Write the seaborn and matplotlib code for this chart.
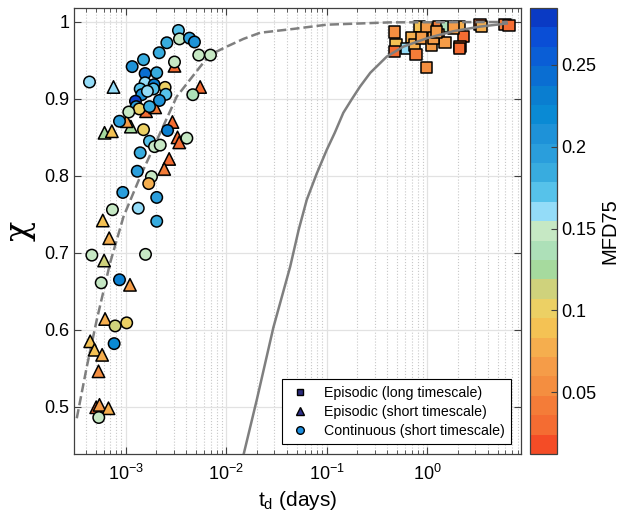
import matplotlib
matplotlib.use("Agg")
import matplotlib.pyplot as plt
from matplotlib.colors import ListedColormap, Normalize
from matplotlib.cm import ScalarMappable
from matplotlib.lines import Line2D
import matplotlib.ticker as mticker
import pandas as pd
import seaborn as sns

# colourbar bands for MFD75, from low (red) to high (dark blue)
band_colors = ['#f44c26', '#f46c32', '#f47c38', '#f48e40', '#f59c48', '#f5ae4e',
               '#f4c254', '#ecd064', '#cfd27c', '#a6da9e', '#ade0b8', '#c6e8c4',
               '#94dcf8', '#56c2ea', '#38acdf', '#2a9edc', '#1e92d8', '#0a8ad4',
               '#0a7ed0', '#0a6ed2', '#0a5ed6', '#0a4ed6', '#0a3ac4']
mfd_min, mfd_max = 0.0122, 0.2848
cb_ticks = [0.05, 0.1, 0.15, 0.2, 0.25]
cb_labels = ['0.05', '0.1', '0.15', '0.2', '0.25']

# Episodic (long timescale) -- squares
sq_t = [0.471, 0.834, 0.989, 1.31, 1.563, 2.07, 3.35, 3.48, 5.94, 6.52, 2.29, 0.489, 0.471,
        0.702, 0.625, 0.740, 0.774, 0.881, 1.11, 1.29, 1.50, 1.82, 2.12, 2.09, 0.989, 1.15, 1.245]
sq_chi = [0.987, 0.994, 0.9926, 0.994, 0.994, 0.994, 0.997, 0.994, 0.997, 0.995, 0.981, 0.970, 0.962,
          0.980, 0.966, 0.970, 0.958, 0.979, 0.970, 0.983, 0.9735, 0.992, 0.968, 0.966, 0.941, 0.979, 0.987]
sq_mfd = [0.055, 0.09, 0.065, 0.045, 0.14, 0.08, 0.025, 0.08, 0.04, 0.025, 0.025, 0.095, 0.035,
          0.08, 0.16, 0.08, 0.045, 0.07, 0.06, 0.065, 0.06, 0.065, 0.04, 0.025, 0.055, 0.07, 0.06]

# Episodic (short timescale) -- triangles
tri_t = [7.54e-4, 6.14e-4, 7.26e-4, 1.122e-3, 1.02e-3, 1.59e-3, 1.96e-3, 2.91e-3, 3.05e-3,
         5.49e-3, 3.27e-3, 3.40e-3, 2.70e-3, 2.41e-3, 5.90e-4, 6.83e-4, 6.08e-4, 1.10e-3,
         6.22e-4, 4.42e-4, 4.88e-4, 5.81e-4, 5.35e-4, 5.07e-4, 5.47e-4, 6.72e-4]
tri_chi = [0.9155, 0.856, 0.858, 0.864, 0.871, 0.884, 0.889, 0.870, 0.943,
           0.9155, 0.850, 0.8435, 0.822, 0.809, 0.742, 0.719, 0.690, 0.6584,
           0.614, 0.585, 0.574, 0.5674, 0.546, 0.4993, 0.5024, 0.498]
tri_mfd = [0.16, 0.125, 0.09, 0.125, 0.065, 0.03, 0.04, 0.03, 0.03,
           0.03, 0.03, 0.035, 0.03, 0.04, 0.09, 0.078, 0.112, 0.065,
           0.075, 0.088, 0.085, 0.075, 0.055, 0.03, 0.07, 0.075]

# Continuous (short timescale) -- circles
cir_t = [4.35e-4, 3.34e-3, 3.42e-3, 4.30e-3, 4.82e-3, 2.56e-3, 2.15e-3, 5.32e-3, 6.95e-3,
         1.50e-3, 1.156e-3, 3.05e-3, 1.556e-3, 2.03e-3, 1.556e-3, 1.914e-3, 1.39e-3, 1.88e-3,
         2.46e-3, 1.44e-3, 2.50e-3, 1.247e-3, 2.16e-3, 1.27e-3, 1.36e-3, 1.72e-3, 1.07e-3,
         8.65e-4, 1.50e-3, 2.60e-3, 1.72e-3, 1.93e-3, 2.20e-3, 4.05e-3, 1.39e-3, 1.30e-3,
         1.80e-3, 1.69e-3, 9.33e-4, 2.03e-3, 7.36e-4, 1.33e-3, 2.03e-3, 4.59e-4, 1.57e-3,
         8.65e-4, 5.69e-4, 7.83e-4, 1.02e-3, 7.65e-4, 5.38e-4, 4.64e-3, 1.64e-3]
cir_chi = [0.922, 0.989, 0.978, 0.979, 0.974, 0.973, 0.960, 0.957, 0.957,
           0.951, 0.942, 0.948, 0.933, 0.934, 0.921, 0.9185, 0.913, 0.913,
           0.915, 0.9055, 0.906, 0.897, 0.898, 0.890, 0.887, 0.890, 0.883,
           0.871, 0.860, 0.859, 0.845, 0.838, 0.840, 0.849, 0.830, 0.806,
           0.799, 0.790, 0.7785, 0.772, 0.756, 0.758, 0.741, 0.697, 0.698,
           0.665, 0.661, 0.605, 0.609, 0.582, 0.486, 0.9055, 0.910]
cir_mfd = [0.16, 0.17, 0.148, 0.195, 0.205, 0.18, 0.18, 0.148, 0.148,
           0.18, 0.21, 0.148, 0.24, 0.18, 0.16, 0.23, 0.17, 0.17,
           0.10, 0.21, 0.17, 0.28, 0.21, 0.20, 0.10, 0.185, 0.148,
           0.195, 0.10, 0.23, 0.17, 0.148, 0.148, 0.148, 0.185, 0.195,
           0.148, 0.078, 0.195, 0.195, 0.148, 0.16, 0.185, 0.148, 0.148,
           0.23, 0.148, 0.112, 0.10, 0.22, 0.148, 0.135, 0.16]

# model curves
dash_t = [3.25e-4, 4.09e-4, 5.14e-4, 6.98e-4, 9.48e-4, 1.39e-3, 2.20e-3, 3.21e-3,
          5.50e-3, 6.9e-3, 1.01e-2, 1.48e-2, 2.17e-2, 4.66e-2, 0.1, 0.427, 6.3]
dash_chi = [0.485, 0.552, 0.613, 0.687, 0.747, 0.799, 0.856, 0.903,
            0.942, 0.9575, 0.968, 0.978, 0.986, 0.991, 0.9965, 0.9995, 1.0]
solid_t = [1.48e-2, 2.01e-2, 2.94e-2, 4.32e-2, 5.25e-2, 6.32e-2, 7.94e-2, 0.1, 0.120,
           0.146, 0.178, 0.214, 0.271, 0.395, 0.578, 1.0, 1.82, 3.35, 6.17]
solid_chi = [0.437, 0.509, 0.603, 0.682, 0.730, 0.769, 0.803, 0.834, 0.856,
             0.882, 0.900, 0.916, 0.934, 0.955, 0.968, 0.979, 0.988, 0.994, 0.998]

plt.rcParams['font.family'] = ['Liberation Sans', 'DejaVu Sans']
plt.rcParams['mathtext.fontset'] = 'custom'
plt.rcParams['mathtext.rm'] = 'Liberation Sans'
plt.rcParams['mathtext.it'] = 'Liberation Sans:italic'

cmap = ListedColormap(band_colors)
norm = Normalize(mfd_min, mfd_max)

fig = plt.figure(figsize=(6.25, 5.18), dpi=100)
ax = fig.add_axes([0.1184, 0.1236, 0.7147, 0.861])

df_sq = pd.DataFrame({'t': sq_t, 'chi': sq_chi, 'mfd': sq_mfd})
df_tri = pd.DataFrame({'t': tri_t, 'chi': tri_chi, 'mfd': tri_mfd})
df_cir = pd.DataFrame({'t': cir_t, 'chi': cir_chi, 'mfd': cir_mfd})

sns.scatterplot(data=df_sq, x='t', y='chi', hue='mfd', palette=cmap, hue_norm=norm,
                marker='s', s=66, edgecolor='black', linewidth=1.1, legend=False, ax=ax, zorder=3)
sns.lineplot(x=solid_t, y=solid_chi, color='#7f7f7f', lw=1.8, sort=False, estimator=None,
             ax=ax, zorder=4)
sns.lineplot(x=dash_t, y=dash_chi, color='#7f7f7f', lw=1.8, linestyle='--', sort=False,
             estimator=None, ax=ax, zorder=4)
sns.scatterplot(data=df_tri, x='t', y='chi', hue='mfd', palette=cmap, hue_norm=norm,
                marker='^', s=80, edgecolor='black', linewidth=1.1, legend=False, ax=ax, zorder=5)
sns.scatterplot(data=df_cir, x='t', y='chi', hue='mfd', palette=cmap, hue_norm=norm,
                marker='o', s=68, edgecolor='black', linewidth=1.1, legend=False, ax=ax, zorder=5)

ax.set_xscale('log')
ax.set_xlim(3.05e-4, 8.5)
ax.set_ylim(0.4386, 1.0182)
ax.set_yticks([0.5, 0.6, 0.7, 0.8, 0.9, 1.0])
ax.yaxis.set_major_formatter(mticker.FuncFormatter(lambda v, p: '{:g}'.format(v)))
ax.xaxis.set_major_locator(mticker.LogLocator(base=10, numticks=10))
ax.xaxis.set_minor_locator(mticker.LogLocator(base=10, subs=range(2, 10), numticks=20))
ax.xaxis.set_minor_formatter(mticker.NullFormatter())

ax.set_axisbelow(True)
ax.grid(which='major', color='#e2e2e2', lw=0.9)
ax.grid(which='minor', axis='x', color='#c8c8c8', ls=':', lw=0.8)
ax.tick_params(which='both', direction='in', top=True, right=True, color='#404040',
               labelsize=13)
ax.tick_params(which='major', length=5)
ax.tick_params(which='minor', length=3)
ax.tick_params(axis='x', pad=7)
for sp in ax.spines.values():
    sp.set_color('#404040')
    sp.set_linewidth(0.9)

ax.set_xlabel(r'$\mathregular{t_d}$ (days)', fontsize=15, labelpad=4)
ax.set_ylabel('χ', fontsize=24, labelpad=6, family=['DejaVu Serif'])

handles = [
    Line2D([], [], marker='s', ls='none', markerfacecolor='#2a2a7a', markeredgecolor='black',
           markersize=5, label='Episodic (long timescale)'),
    Line2D([], [], marker='^', ls='none', markerfacecolor='#30308a', markeredgecolor='black',
           markersize=6, label='Episodic (short timescale)'),
    Line2D([], [], marker='o', ls='none', markerfacecolor='#1d8fe0', markeredgecolor='black',
           markersize=5.5, label='Continuous (short timescale)'),
]
leg = ax.legend(handles=handles, loc='lower right', bbox_to_anchor=(0.978, 0.022),
                fontsize=10.2, frameon=True, fancybox=False, edgecolor='black', framealpha=1,
                borderaxespad=0, handletextpad=0.9, labelspacing=0.35, handlelength=1.6,
                borderpad=0.45)
leg.get_frame().set_linewidth(0.8)

cax = fig.add_axes([0.848, 0.1236, 0.0432, 0.861])
sm = ScalarMappable(norm=norm, cmap=cmap)
cb = fig.colorbar(sm, cax=cax)
cb.set_ticks(cb_ticks)
cb.set_ticklabels(cb_labels)
cb.ax.tick_params(direction='in', length=4, labelsize=13, color='#404040', pad=3)
cb.outline.set_edgecolor('#404040')
cb.outline.set_linewidth(0.9)
cb.set_label('MFD75', fontsize=14.5, labelpad=3)

fig.savefig('out.png', dpi=100)
